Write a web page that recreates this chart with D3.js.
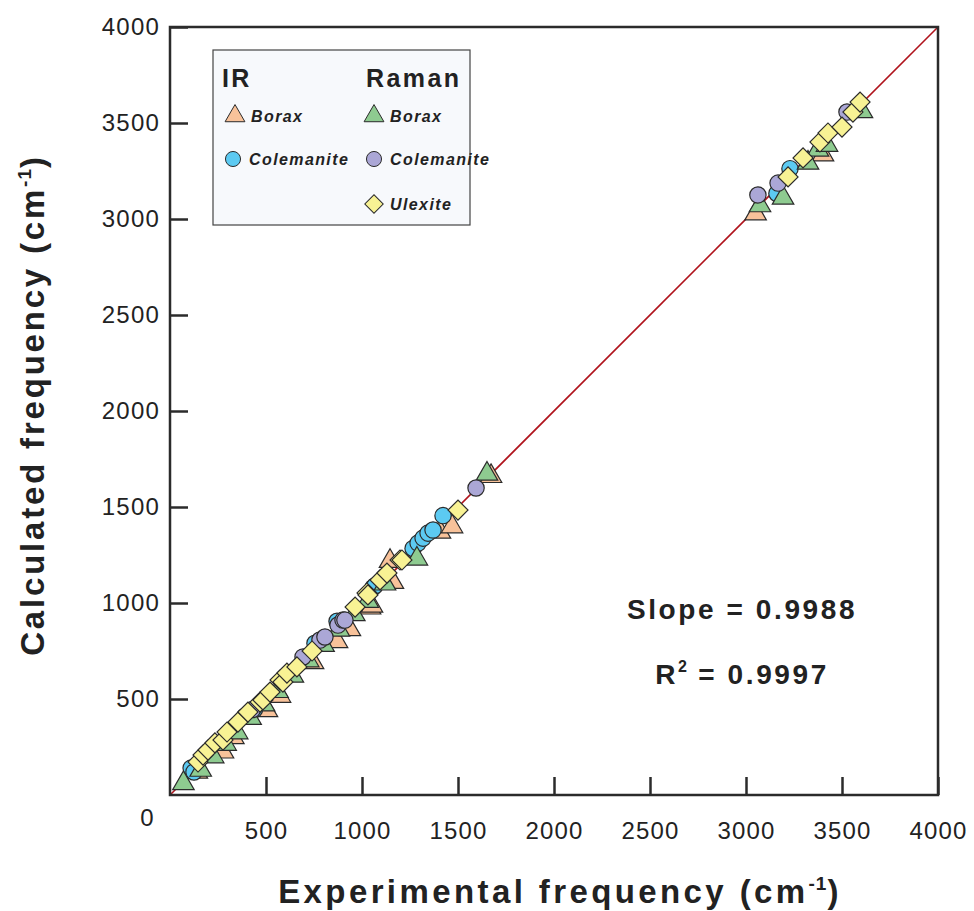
<!DOCTYPE html>
<html>
<head>
<meta charset="utf-8">
<script src="https://cdn.jsdelivr.net/npm/d3@7"></script>
<style>
  body { margin: 0; background: #fff; }
  svg { font-family: "Liberation Sans", Arial, sans-serif; }
</style>
</head>
<body>
<svg id="chart" width="974" height="911"></svg>
<script>
// data (cm-1)
const irBoraxExp  = [140, 276, 330, 505, 573, 745, 870, 937, 1042, 1052, 1146, 1161, 1406, 1469, 1672, 3050, 3401];
const irBoraxCalc = [120, 225, 300, 440, 515, 690, 800, 862, 975, 985, 1218, 1108, 1370, 1398, 1660, 3028, 3335];

const irColExp  = [110, 125, 390, 440, 755, 870, 1057, 1068, 1266, 1292, 1318, 1344, 1370, 1422, 3161, 3229];
const irColCalc = [140, 120, 410, 445, 790, 905, 1080, 1090, 1284, 1312, 1338, 1364, 1380, 1455, 3133, 3262];

const ramanBoraxExp  = [70, 160, 225, 290, 350, 420, 490, 560, 640, 720, 800, 880, 960, 1030, 1120, 1286, 1651, 3073, 3193, 3323, 3375, 3422, 3604];
const ramanBoraxCalc = [60, 130, 200, 265, 325, 400, 470, 540, 620, 700, 780, 860, 940, 1010, 1100, 1230, 1672, 3070, 3110, 3292, 3360, 3385, 3560];

const ramanColExp  = [430, 693, 781, 807, 875, 901, 911, 1594, 3062, 3167, 3526];
const ramanColCalc = [445, 719, 807, 823, 885, 911, 911, 1599, 3125, 3187, 3557];

const ulexiteExp  = [146, 172, 198, 234, 276, 297, 354, 406, 469, 484, 521, 573, 588, 609, 661, 740, 964, 1026, 1031, 1094, 1130, 1198, 1208, 1500, 3219, 3297, 3385, 3427, 3500, 3557, 3594];
const ulexiteCalc = [172, 208, 234, 271, 286, 328, 380, 432, 484, 495, 536, 599, 588, 635, 667, 750, 979, 1052, 1042, 1120, 1156, 1224, 1224, 1484, 3219, 3318, 3401, 3448, 3479, 3557, 3609];

const tickValues = [500, 1000, 1500, 2000, 2500, 3000, 3500, 4000];
const slopeText = "Slope = 0.9988";
const r2Value = " = 0.9997";

const svg = d3.select('#chart');

const MARGIN_LEFT = 170;
const MARGIN_TOP = 27;
const PLOT_SIZE = 768;

const x = d3.scaleLinear().domain([0, 4000]).range([MARGIN_LEFT, MARGIN_LEFT + PLOT_SIZE]);
const y = d3.scaleLinear().domain([0, 4000]).range([MARGIN_TOP + PLOT_SIZE, MARGIN_TOP]);

const STROKE = '#2b2b2b';

const series = [
    {name: 'irBorax', exp: irBoraxExp, calc: irBoraxCalc, shape: 'triangle', fill: '#f8c29a'},
    {name: 'irCol', exp: irColExp, calc: irColCalc, shape: 'circle', fill: '#5ccaf2'},
    {name: 'ramanBorax', exp: ramanBoraxExp, calc: ramanBoraxCalc, shape: 'triangle', fill: '#8ecb90'},
    {name: 'ramanCol', exp: ramanColExp, calc: ramanColCalc, shape: 'circle', fill: '#aba7d6'},
    {name: 'ulexite', exp: ulexiteExp, calc: ulexiteCalc, shape: 'diamond', fill: '#f8f294'},
];

function symbolPath(shape, scale) {
    if (shape === 'triangle') return d3.symbol(d3.symbolTriangle, 200 * scale)();
    if (shape === 'circle') return d3.symbol(d3.symbolCircle, 210 * scale)();
    return d3.symbol(d3.symbolSquare, 200 * scale)();
}

// 1:1 line
svg.append('line')
    .attr('x1', x(0)).attr('y1', y(0))
    .attr('x2', x(4000)).attr('y2', y(4000))
    .attr('stroke', '#b0131c')
    .attr('stroke-width', 1.6);

// points
series.forEach(s => {
    svg.append('g')
        .selectAll('path')
        .data(d3.zip(s.exp, s.calc))
        .join('path')
        .attr('d', symbolPath(s.shape, 1))
        .attr('transform', d => 'translate(' + x(d[0]) + ',' + y(d[1]) + ')' + (s.shape === 'diamond' ? ' rotate(45)' : ''))
        .attr('fill', s.fill)
        .attr('stroke', STROKE)
        .attr('stroke-width', 1.2);
});

// axes, ticks pointing inward
const xAxis = svg.append('g')
    .attr('transform', 'translate(0,' + y(0) + ')')
    .call(d3.axisBottom(x).tickValues(tickValues).tickSizeInner(-18).tickSizeOuter(0).tickPadding(27).tickFormat(d3.format('d')));
const yAxis = svg.append('g')
    .attr('transform', 'translate(' + x(0) + ',0)')
    .call(d3.axisLeft(y).tickValues(tickValues).tickSizeInner(-18).tickSizeOuter(0).tickPadding(10).tickFormat(d3.format('d')));

[xAxis, yAxis].forEach(g => {
    g.select('.domain').remove();
    g.selectAll('line').attr('stroke', STROKE).attr('stroke-width', 2.5);
    g.selectAll('text')
        .attr('font-size', 24)
        .attr('letter-spacing', 1.2)
        .attr('fill', '#222')
        .attr('font-family', '"Liberation Sans", Arial, sans-serif');
});

// corner zero
svg.append('text')
    .text('0')
    .attr('x', x(0) - 23)
    .attr('y', y(0) + 31)
    .attr('font-size', 24)
    .attr('fill', '#222')
    .attr('text-anchor', 'middle');

// frame
svg.append('rect')
    .attr('x', x(0)).attr('y', y(4000))
    .attr('width', PLOT_SIZE).attr('height', PLOT_SIZE)
    .attr('fill', 'none')
    .attr('stroke', STROKE)
    .attr('stroke-width', 2.5);

// axis titles
const xTitle = svg.append('text')
    .attr('x', x(2000) + 6)
    .attr('y', 903)
    .attr('text-anchor', 'middle')
    .attr('font-size', 33)
    .attr('font-weight', 'bold')
    .attr('letter-spacing', 3.4)
    .attr('fill', '#222');
xTitle.append('tspan').text('Experimental frequency (cm');
xTitle.append('tspan').text('-1').attr('font-size', 19).attr('letter-spacing', 1).attr('dy', -13);
xTitle.append('tspan').text(')').attr('dy', 13);

const yTitle = svg.append('text')
    .attr('transform', 'translate(44,' + (y(2000) - 6) + ') rotate(-90)')
    .attr('text-anchor', 'middle')
    .attr('font-size', 33)
    .attr('font-weight', 'bold')
    .attr('letter-spacing', 2.8)
    .attr('fill', '#222');
yTitle.append('tspan').text('Calculated frequency (cm');
yTitle.append('tspan').text('-1').attr('font-size', 19).attr('letter-spacing', 1).attr('dy', -13);
yTitle.append('tspan').text(')').attr('dy', 13);

// statistics
svg.append('text')
    .text(slopeText)
    .attr('x', 742).attr('y', 619)
    .attr('text-anchor', 'middle')
    .attr('font-size', 28)
    .attr('font-weight', 'bold')
    .attr('letter-spacing', 2.6)
    .attr('fill', '#222');
const r2 = svg.append('text')
    .attr('x', 742).attr('y', 684)
    .attr('text-anchor', 'middle')
    .attr('font-size', 28)
    .attr('font-weight', 'bold')
    .attr('letter-spacing', 2.6)
    .attr('fill', '#222');
r2.append('tspan').text('R');
r2.append('tspan').text('2').attr('font-size', 16).attr('letter-spacing', 1).attr('dy', -12);
r2.append('tspan').text(r2Value).attr('dy', 12);

// legend
const legend = svg.append('g');
legend.append('rect')
    .attr('x', 213).attr('y', 50)
    .attr('width', 257).attr('height', 175)
    .attr('fill', '#f7f9fc')
    .attr('stroke', '#444')
    .attr('stroke-width', 1.2);

[['IR', 222], ['Raman', 366]].forEach(h => {
    legend.append('text')
        .text(h[0])
        .attr('x', h[1]).attr('y', 87)
        .attr('font-size', 25)
        .attr('font-weight', 'bold')
        .attr('letter-spacing', 2.4)
        .attr('fill', '#222');
});

const legendItems = [
    {s: series[0], label: 'Borax', cx: 235, cy: 116},
    {s: series[1], label: 'Colemanite', cx: 233, cy: 159},
    {s: series[2], label: 'Borax', cx: 374, cy: 116},
    {s: series[3], label: 'Colemanite', cx: 374, cy: 159},
    {s: series[4], label: 'Ulexite', cx: 374, cy: 204},
];
legendItems.forEach(it => {
    legend.append('path')
        .attr('d', symbolPath(it.s.shape, 0.85))
        .attr('transform', 'translate(' + it.cx + ',' + it.cy + ')' + (it.s.shape === 'diamond' ? ' rotate(45)' : ''))
        .attr('fill', it.s.fill)
        .attr('stroke', STROKE)
        .attr('stroke-width', 1);
    legend.append('text')
        .text(it.label)
        .attr('x', it.cx + 16).attr('y', it.cy + 6)
        .attr('font-size', 16)
        .attr('font-weight', 'bold')
        .attr('font-style', 'italic')
        .attr('letter-spacing', 1.4)
        .attr('fill', '#222');
});
</script>
</body>
</html>
